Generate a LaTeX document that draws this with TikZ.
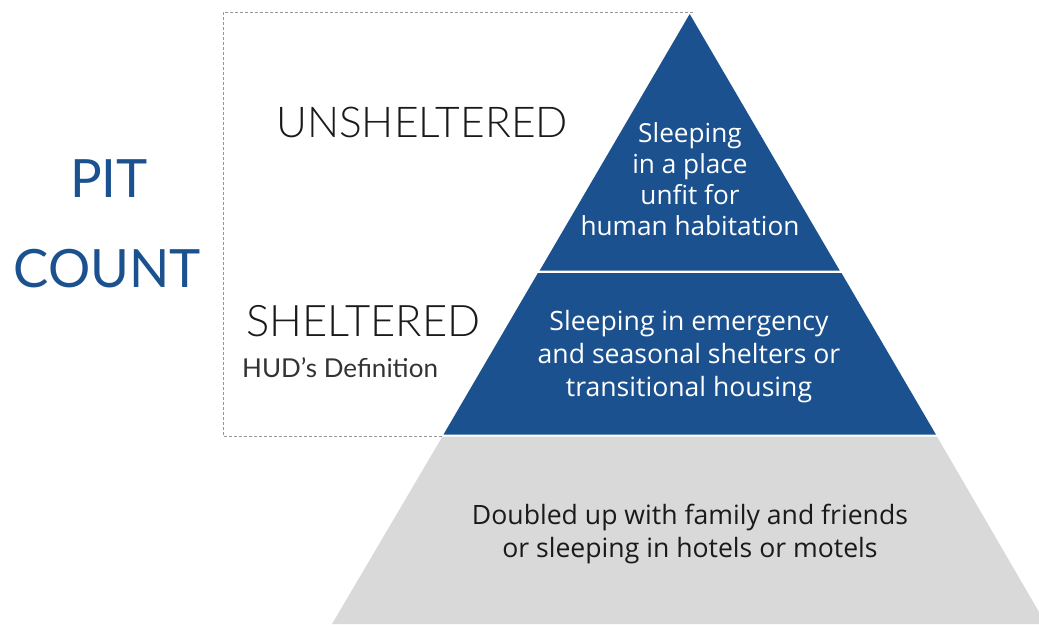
\documentclass[tikz,border=0pt]{standalone}
\usepackage{fontspec}
\setmainfont{Open Sans}
\newfontfamily\lato{Lato}
\newfontfamily\latolight{Lato Light}
\definecolor{pitblue}{RGB}{27,81,143}
\definecolor{pitgray}{RGB}{217,217,217}
\definecolor{dashgray}{RGB}{150,150,150}
\definecolor{darktext}{RGB}{26,26,26}
\tikzset{
  blueblock/.style={fill=pitblue, draw=none},
  grayblock/.style={fill=pitgray, draw=none},
  pyrtext/.style={align=center, inner sep=0pt, font=\fontsize{26.5}{31.5}\selectfont},
  sidelabel/.style={inner sep=0pt, anchor=base west, text=darktext},
  dashbox/.style={draw=dashgray, line width=0.9pt, dash pattern=on 3pt off 2pt}
}
\begin{document}
\begin{tikzpicture}[x=1pt,y=-1pt]
\useasboundingbox (0,0) rectangle (1039,624);
\clip (0,0) rectangle (1039,624);
% dashed frame
\draw[dashbox] (693,12) -- (223,12) -- (223,436) -- (442,436);
% pyramid
\fill[blueblock] (689.7,14) -- (839.8,270.7) -- (539.6,270.7) -- cycle;
\fill[blueblock] (537.9,273) -- (841.5,273) -- (935.9,434.5) -- (443.5,434.5) -- cycle;
\fill[grayblock] (442.3,436.7) -- (937.1,436.7) -- (1046,624) -- (332,624) -- cycle;
% pyramid texts
\node[pyrtext, text=white, font=\fontsize{26.2}{31}\selectfont] (top) at (690,179.5) {Sleeping\\in a place\\unfit for\\human habitation};
\node[pyrtext, text=white, font=\fontsize{26.6}{33}\selectfont] (mid) at (689,356.5) {Sleeping in emergency\\and seasonal shelters or\\transitional housing};
\node[pyrtext, text=darktext, font=\fontsize{26.6}{32.5}\selectfont] (bot) at (690,534) {Doubled up with family and friends\\or sleeping in hotels or motels};
% side labels
\node[sidelabel, font=\latolight\fontsize{42.5}{42.5}\selectfont] (unsh) at (276,137.7) {UNSHELTERED};
\node[sidelabel, font=\latolight\fontsize{43.5}{43.5}\selectfont] (sh) at (246,336.7) {SHELTERED};
\node[sidelabel, font=\lato\fontsize{26}{26}\selectfont, text={rgb,255:red,51;green,51;blue,51}] (hud) at (242,377) {HUD’s Definition};
\node[inner sep=0pt, anchor=base, text=pitblue, font=\lato\fontsize{52.8}{52.8}\selectfont] (pit) at (109,197) {PIT};
\node[inner sep=0pt, anchor=base, text=pitblue, font=\lato\fontsize{52.8}{52.8}\selectfont] (count) at (107,287) {COUNT};
\end{tikzpicture}
\end{document}
